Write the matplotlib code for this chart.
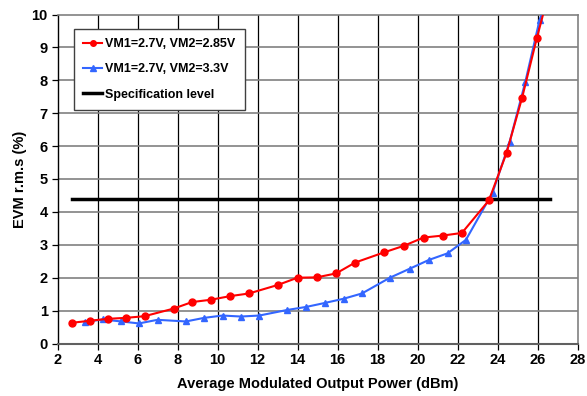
import matplotlib
matplotlib.use("Agg")
import matplotlib.pyplot as plt

plt.rcParams['font.family'] = ['Liberation Sans', 'DejaVu Sans']

red_x = [2.72, 3.6, 4.52, 5.43, 6.35, 7.8, 8.73, 9.67, 10.63, 11.57, 13.02, 14.0, 14.96,
         15.93, 16.88, 18.33, 19.32, 20.3, 21.25, 22.22, 23.57, 24.45, 25.23, 25.97, 26.45]
red_y = [0.63, 0.69, 0.75, 0.78, 0.83, 1.06, 1.26, 1.33, 1.44, 1.52, 1.78, 2.0, 2.01,
         2.13, 2.46, 2.77, 2.97, 3.22, 3.28, 3.36, 4.35, 5.79, 7.47, 9.29, 10.4]

blue_x = [3.39, 4.27, 5.19, 6.07, 7.0, 8.42, 9.34, 10.25, 11.17, 12.09, 13.49, 14.42,
          15.35, 16.3, 17.22, 18.62, 19.6, 20.57, 21.5, 22.42, 23.75, 24.6, 25.39, 26.1, 26.45]
blue_y = [0.66, 0.73, 0.67, 0.61, 0.72, 0.67, 0.78, 0.85, 0.82, 0.85, 1.02, 1.11,
          1.23, 1.36, 1.52, 2.0, 2.27, 2.54, 2.74, 3.15, 4.58, 6.11, 7.95, 9.82, 10.4]

spec_x = [2.72, 26.63]
spec_y = [4.4, 4.4]

labels = ["VM1=2.7V, VM2=2.85V", "VM1=2.7V, VM2=3.3V", "Specification level"]

fig = plt.figure(figsize=(5.87, 3.96), dpi=100)
ax = fig.add_axes([57.5/587, 52.5/396, 520/587, 329/396])

ax.set_xlim(2, 28)
ax.set_ylim(0, 10)
ax.set_xticks(range(2, 29, 2))
ax.set_yticks(range(0, 11, 1))

for xv in range(4, 28, 2):
    ax.axvline(xv, color='black', lw=0.9, zorder=1)
for yv in range(1, 10):
    ax.axhline(yv, color='#808080', lw=1.2, zorder=1)

ax.plot(red_x, red_y, color='#ff0000', lw=1.5, marker='o', ms=5, label=labels[0], zorder=4)
ax.plot(blue_x, blue_y, color='#3366ff', lw=1.5, marker='^', ms=5, label=labels[1], zorder=3)
ax.plot(spec_x, spec_y, color='black', lw=2.5, label=labels[2], zorder=2)

for s in ['top', 'right']:
    ax.spines[s].set_color('#808080')
    ax.spines[s].set_linewidth(1.2)
ax.spines['bottom'].set_color('#606060')
ax.spines['bottom'].set_linewidth(1.5)
ax.spines['left'].set_color('black')
ax.spines['left'].set_linewidth(1.0)

ax.tick_params(axis='both', direction='out', length=4, width=0.9, labelsize=10.5, pad=3)
for lab in ax.get_xticklabels() + ax.get_yticklabels():
    lab.set_fontweight('bold')

ax.set_xlabel("Average Modulated Output Power (dBm)", fontsize=10.5, fontweight='bold', labelpad=7)
ax.set_ylabel("EVM r.m.s (%)", fontsize=10.5, fontweight='bold', labelpad=3)

leg = ax.legend(loc='upper left', bbox_to_anchor=(16.5/520, 314.5/329), frameon=True, fancybox=False,
                edgecolor='#404040', framealpha=1, prop={'weight': 'bold', 'size': 9},
                handlelength=1.5, handletextpad=0.25, labelspacing=1.05, borderpad=0.75,
                markerscale=0.8, borderaxespad=0)
leg.get_frame().set_linewidth(1.0)

fig.savefig("out.png", dpi=100)
